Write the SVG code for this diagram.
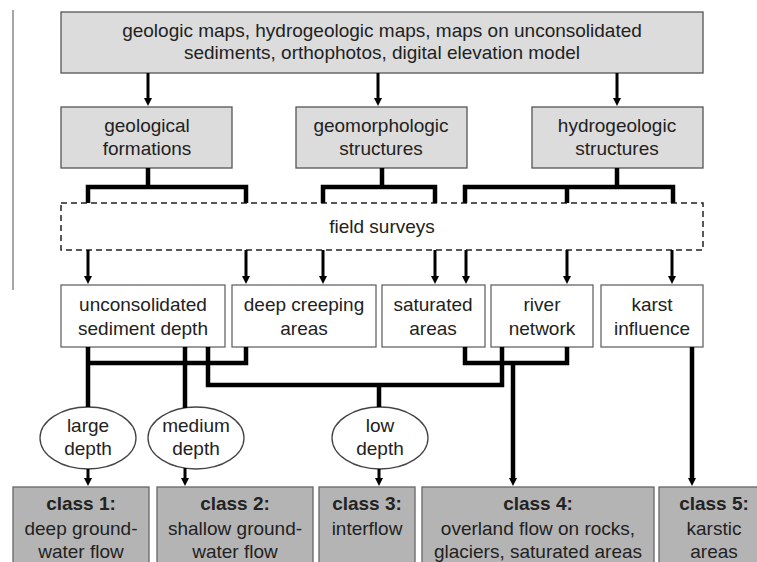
<svg xmlns="http://www.w3.org/2000/svg" width="757" height="562" viewBox="0 0 757 562">
<defs>
<style>
text{font-family:"Liberation Sans",Arial,sans-serif;font-size:19px;fill:#222;text-anchor:middle}
.b{font-weight:bold}
.src{fill:#dcdcdc;stroke:#555;stroke-width:1.3}
.mid{fill:#fff;stroke:#666;stroke-width:1.3}
.cls{fill:#b4b4b4;stroke:#666;stroke-width:1.3}
.ell{fill:#fff;stroke:#444;stroke-width:1.3}
.c{fill:none;stroke:#000;stroke-linejoin:miter;stroke-linecap:butt}
.t3{stroke-width:3}
.t4{stroke-width:4.5}
.a{marker-end:url(#ah)}
</style>
<marker id="ah" markerUnits="userSpaceOnUse" markerWidth="9" markerHeight="9" refX="3" refY="4" orient="auto">
<path d="M0,0 L8,4 L0,8 z" fill="#000"/>
</marker>
</defs>
<rect width="757" height="562" fill="#fff"/>
<line x1="13" y1="10" x2="13" y2="290" stroke="#888" stroke-width="1.5"/>

<g id="sources">
<rect class="src" x="61" y="12" width="642" height="61"/>
<text x="382" y="37">geologic maps, hydrogeologic maps, maps on unconsolidated</text>
<text x="382" y="59">sediments, orthophotos, digital elevation model</text>
</g>
<g id="geological-formations">
<rect class="src" x="61" y="107" width="171" height="61"/>
<text x="147" y="132">geological</text>
<text x="147" y="155">formations</text>
</g>
<g id="geomorphologic-structures">
<rect class="src" x="296" y="107" width="171" height="61"/>
<text x="381" y="132">geomorphologic</text>
<text x="381" y="155">structures</text>
</g>
<g id="hydrogeologic-structures">
<rect class="src" x="532" y="107" width="171" height="61"/>
<text x="617" y="132">hydrogeologic</text>
<text x="617" y="155">structures</text>
</g>
<g id="field-surveys">
<rect x="61" y="203" width="642" height="47" fill="#fff" stroke="#222" stroke-width="1.5" stroke-dasharray="6 4"/>
<text x="382" y="233">field surveys</text>
</g>
<g id="sediment-depth">
<rect class="mid" x="61" y="285" width="164" height="62"/>
<text x="143" y="311">unconsolidated</text>
<text x="143" y="335">sediment depth</text>
</g>
<g id="deep-creeping">
<rect class="mid" x="232" y="285" width="144" height="62"/>
<text x="304" y="311">deep creeping</text>
<text x="304" y="335">areas</text>
</g>
<g id="saturated-areas">
<rect class="mid" x="382" y="285" width="103" height="62"/>
<text x="433" y="311">saturated</text>
<text x="433" y="335">areas</text>
</g>
<g id="river-network">
<rect class="mid" x="491" y="285" width="102" height="62"/>
<text x="542" y="311">river</text>
<text x="542" y="335">network</text>
</g>
<g id="karst-influence">
<rect class="mid" x="601" y="285" width="102" height="62"/>
<text x="652" y="311">karst</text>
<text x="652" y="335">influence</text>
</g>
<g id="large-depth">
<ellipse class="ell" cx="88" cy="438" rx="48" ry="31"/>
<text x="88" y="432">large</text>
<text x="88" y="455">depth</text>
</g>
<g id="medium-depth">
<ellipse class="ell" cx="196" cy="438" rx="48" ry="31"/>
<text x="196" y="432">medium</text>
<text x="196" y="455">depth</text>
</g>
<g id="low-depth">
<ellipse class="ell" cx="380" cy="438" rx="48" ry="31"/>
<text x="380" y="432">low</text>
<text x="380" y="455">depth</text>
</g>
<g id="class1">
<rect class="cls" x="13" y="487" width="136" height="80"/>
<text class="b" x="81" y="510">class 1:</text>
<text x="81" y="535">deep ground-</text>
<text x="81" y="558">water flow</text>
</g>
<g id="class2">
<rect class="cls" x="157" y="487" width="156" height="80"/>
<text class="b" x="235" y="510">class 2:</text>
<text x="235" y="535">shallow ground-</text>
<text x="235" y="558">water flow</text>
</g>
<g id="class3">
<rect class="cls" x="319" y="487" width="96" height="80"/>
<text class="b" x="367" y="510">class 3:</text>
<text x="367" y="535">interflow</text>
</g>
<g id="class4">
<rect class="cls" x="422" y="487" width="232" height="80"/>
<text class="b" x="538" y="510">class 4:</text>
<text x="538" y="535">overland flow on rocks,</text>
<text x="538" y="558">glaciers, saturated areas</text>
</g>
<g id="class5">
<rect class="cls" x="659" y="487" width="110" height="80"/>
<text class="b" x="714" y="510">class 5:</text>
<text x="714" y="535">karstic</text>
<text x="714" y="558">areas</text>
</g>

<g id="connectors">
<path class="c t3 a" d="M148,73 V101"/>
<path class="c t3 a" d="M378,73 V101"/>
<path class="c t3 a" d="M617,73 V101"/>
<path class="c t4" d="M148,168 V187 M88,203 V187 H246 V203"/>
<path class="c t4" d="M382,168 V187 M323,203 V187 H435 V203"/>
<path class="c t4" d="M617,168 V187 M465,203 V187 H673 V203 M567,187 V203"/>
<path class="c t3 a" d="M88,250 V279"/>
<path class="c t3 a" d="M246,250 V279"/>
<path class="c t3 a" d="M323,250 V279"/>
<path class="c t3 a" d="M435,250 V279"/>
<path class="c t3 a" d="M466,250 V279"/>
<path class="c t3 a" d="M567,250 V279"/>
<path class="c t3 a" d="M672,250 V279"/>
<path class="c t4" d="M88,347 V407 M88,363 H246 V347"/>
<path class="c t4" d="M185,347 V408"/>
<path class="c t4" d="M208,347 V385 H502 V347 M379,385 V407"/>
<path class="c t4" d="M465,347 V363 H567 V347"/>
<path class="c t4 a" d="M513,363 V481"/>
<path class="c t4 a" d="M692,347 V481"/>
<path class="c t3 a" d="M88,469 V481"/>
<path class="c t3 a" d="M185,468 V481"/>
<path class="c t3 a" d="M379,469 V481"/>
</g>
</svg>
